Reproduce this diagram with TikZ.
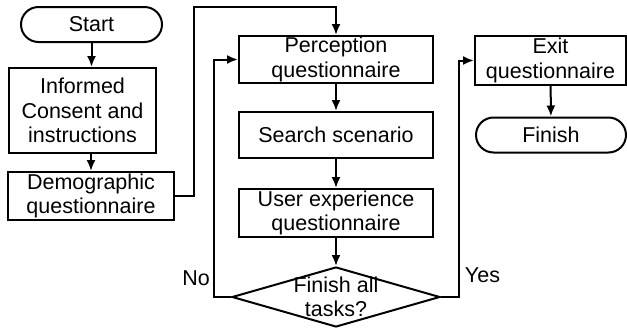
\documentclass[tikz,border=0pt]{standalone}
\usepackage{fontspec}
\setmainfont{Liberation Sans}
\usetikzlibrary{shapes.misc,shapes.geometric,arrows.meta}

\begin{document}
\begin{tikzpicture}[x=1pt,y=-1pt,
    every node/.style={font=\fontsize{21.5}{24.5}\selectfont,align=center,inner sep=0pt,line width=2pt},
    box/.style={draw,rectangle},
    term/.style={draw,rounded rectangle},
    flow/.style={line width=2pt,-{Latex[length=11pt,width=9pt]}}]
    \useasboundingbox (0,0) rectangle (627,327);
    % left column
    \node[term,minimum width=141,minimum height=35] (start) at (91.5,24.5) {Start};
    \node[box,minimum width=147,minimum height=85] (consent) at (82.5,110.5) {Informed\\Consent and\\instructions};
    \node[box,minimum width=166,minimum height=48] (demog) at (91,196) {Demographic\\questionnaire};
    % middle column
    \node[box,minimum width=194,minimum height=47] (perc) at (336,59.5) {Perception\\questionnaire};
    \node[box,minimum width=194,minimum height=46] (search) at (336,135) {Search scenario};
    \node[box,minimum width=194,minimum height=48] (ux) at (336,213) {User experience\\questionnaire};
    \node[draw,diamond,minimum width=208,minimum height=60,
          label={[align=center]center:Finish all\\tasks?}] (decide) at (336,297) {};
    % right column
    \node[box,minimum width=151,minimum height=49] (exit) at (550.5,60.5) {Exit\\questionnaire};
    \node[term,minimum width=150,minimum height=35] (finish) at (551,135) {Finish};
    % bends
    \coordinate (upleft) at (194,7);
    \coordinate (noleft) at (214,297);
    \coordinate (yesright) at (459,297);
    % connectors
    \draw[flow] (start.south) -- (start.south |- consent.north);
    \draw[flow] (consent.south -| demog.north) -- (demog.north);
    \draw[flow] (demog.east) -| (upleft) -| (perc.north);
    \draw[flow] (perc) -- (search);
    \draw[flow] (search) -- (ux);
    \draw[flow] (ux) -- (decide);
    \draw[flow] (decide.west) -- (noleft) |- (perc.west);
    \draw[flow] (decide.east) -- (yesright) |- (exit.west);
    \draw[flow] (exit) -- (finish);
    \node (nolabel) at (196,278) {No};
    \node (yeslabel) at (482.5,275) {Yes};
\end{tikzpicture}
\end{document}
